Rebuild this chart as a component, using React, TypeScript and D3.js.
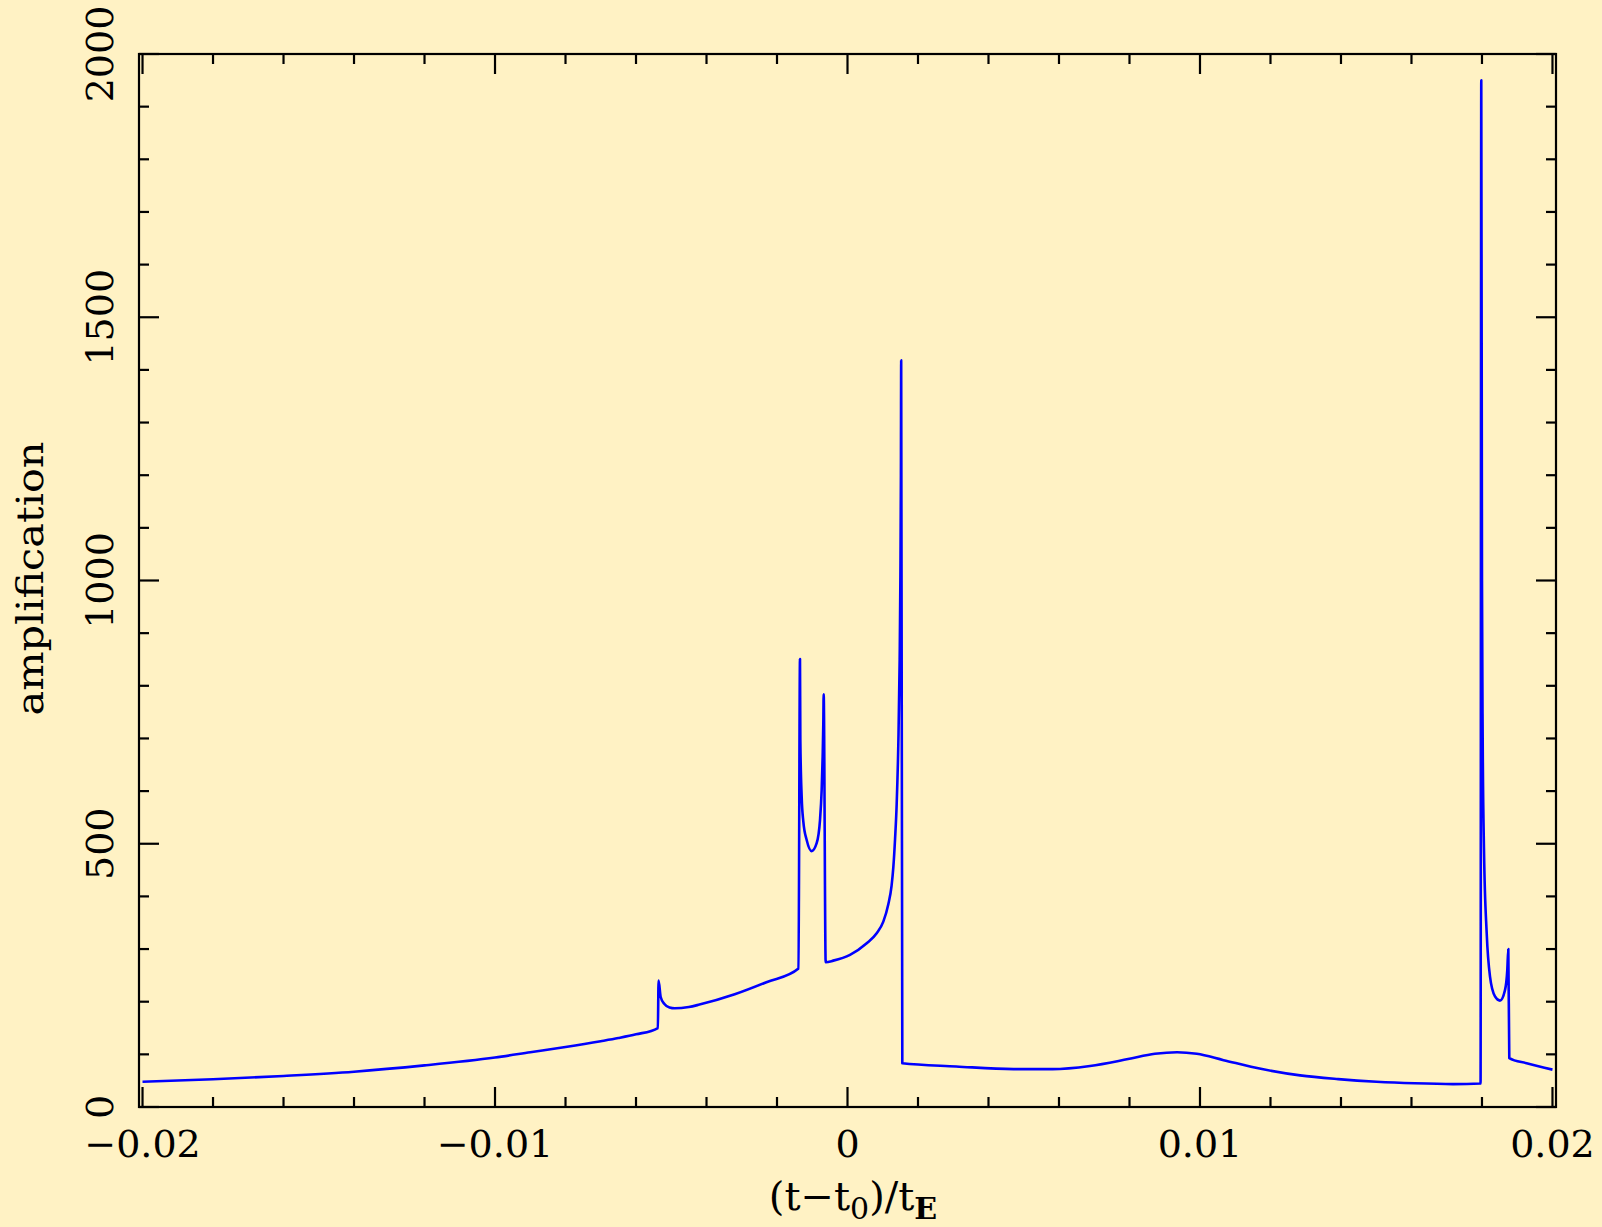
import React from "react";
import * as d3 from "d3";

// ---- data ----
const tValues: number[] = [
  -0.02, -0.018, -0.016, -0.014, -0.012, -0.01, -0.009, -0.008, -0.007, -0.0065, -0.006,
  -0.00538, -0.00536, -0.0053, -0.0052, -0.00505, -0.0049, -0.0045, -0.0042, -0.0032, -0.0023,
  -0.00139, -0.001348, -0.001338, -0.0013, -0.001253, -0.001158, -0.001017, -0.000875, -0.00078,
  -0.000733, -0.000705, -0.000686, -0.000676, -0.000619, -0.000403, 0.000071, 0.000545, 0.000828,
  0.001016, 0.001158, 0.00125, 0.0013, 0.00135, 0.001395, 0.001442, 0.00148, 0.0015, 0.001515,
  0.001523, 0.001555,
  0.003084, 0.00471, 0.005816, 0.00688, 0.00796, 0.00872, 0.00935, 0.00991, 0.01067, 0.01176,
  0.01284, 0.01392, 0.01501, 0.01609, 0.01718, 0.01796, 0.01798, 0.018, 0.01802, 0.018057,
  0.018134, 0.018227, 0.018369, 0.018511, 0.018653, 0.018718, 0.018747, 0.018775, 0.019268, 0.02,
];
const ampValues: number[] = [
  48, 52.6, 59, 67, 79, 94, 104, 114, 125, 131, 138,
  150, 240, 209, 196, 189, 187.5, 190, 194.5, 214, 237,
  263, 851, 697, 589, 542, 507, 486, 501, 545,
  602, 665, 729, 784, 275, 278, 289, 311, 330,
  352, 385, 420, 455, 510, 575, 690, 850, 1000, 1200,
  1418, 83,
  77, 72, 72, 78, 91, 101, 104, 101, 89, 72,
  60, 53, 48, 45, 43.5, 44.5, 1950, 1000, 700, 488,
  330, 248, 210, 202, 222, 260, 300, 93, 83, 71,
];

const xMajorTicks = [-0.02, -0.01, 0, 0.01, 0.02];
const xTickLabels = ["\u22120.02", "\u22120.01", "0", "0.01", "0.02"];
const yMajorTicks = [0, 500, 1000, 1500, 2000];
const yTickLabels = ["0", "500", "1000", "1500", "2000"];

const W = 1602;
const H = 1227;
const L = 139;
const R = 1556;
const T = 54;
const B = 1107;
const BG = "#fff2c4";
const FONT = "'DejaVu Serif', serif";

export default function App() {
  const x = d3.scaleLinear().domain([-0.0201, 0.0201]).range([L, R]);
  const y = d3.scaleLinear().domain([0, 2000]).range([B, T]);

  const data = tValues.map((t, i) => [t, ampValues[i]] as [number, number]);
  const line = d3
    .line<[number, number]>()
    .x((d) => x(d[0]))
    .y((d) => y(d[1]))
    .curve(d3.curveMonotoneX);

  const xMinor = d3.range(-0.02, 0.02001, 0.002).filter(
    (v) => !xMajorTicks.some((m) => Math.abs(m - v) < 1e-9)
  );
  const yMinor = d3.range(0, 2001, 100).filter((v) => v % 500 !== 0);

  const major = 20;
  const minor = 10;
  const sw = 2.2;

  return (
    <svg
      width={W}
      height={H}
      style={{ position: "absolute", left: 0, top: 0, display: "block" }}
      xmlns="http://www.w3.org/2000/svg"
    >
      <rect x={0} y={0} width={W} height={H} fill={BG} />
      {/* curve */}
      <path d={line(data) || ""} fill="none" stroke="#0000ff" strokeWidth={2.6} strokeLinejoin="round" />
      {/* frame */}
      <rect x={L} y={T} width={R - L} height={B - T} fill="none" stroke="#000" strokeWidth={sw} />
      {/* x ticks */}
      {xMajorTicks.map((v) => (
        <g key={"xM" + v}>
          <line x1={x(v)} x2={x(v)} y1={B} y2={B - major} stroke="#000" strokeWidth={sw} />
          <line x1={x(v)} x2={x(v)} y1={T} y2={T + major} stroke="#000" strokeWidth={sw} />
        </g>
      ))}
      {xMinor.map((v) => (
        <g key={"xm" + v}>
          <line x1={x(v)} x2={x(v)} y1={B} y2={B - minor} stroke="#000" strokeWidth={sw} />
          <line x1={x(v)} x2={x(v)} y1={T} y2={T + minor} stroke="#000" strokeWidth={sw} />
        </g>
      ))}
      {/* y ticks */}
      {yMajorTicks.map((v) => (
        <g key={"yM" + v}>
          <line x1={L} x2={L + major} y1={y(v)} y2={y(v)} stroke="#000" strokeWidth={sw} />
          <line x1={R} x2={R - major} y1={y(v)} y2={y(v)} stroke="#000" strokeWidth={sw} />
        </g>
      ))}
      {yMinor.map((v) => (
        <g key={"ym" + v}>
          <line x1={L} x2={L + minor} y1={y(v)} y2={y(v)} stroke="#000" strokeWidth={sw} />
          <line x1={R} x2={R - minor} y1={y(v)} y2={y(v)} stroke="#000" strokeWidth={sw} />
        </g>
      ))}
      {/* x tick labels */}
      {xMajorTicks.map((v, i) => (
        <text
          key={"xl" + v}
          x={x(v)}
          y={1157}
          textAnchor="middle"
          fontFamily={FONT}
          fontSize={38}
          fill="#000"
        >
          {xTickLabels[i]}
        </text>
      ))}
      {/* y tick labels (rotated) */}
      {yMajorTicks.map((v, i) => (
        <text
          key={"yl" + v}
          transform={`translate(113,${y(v)}) rotate(-90)`}
          textAnchor="middle"
          fontFamily={FONT}
          fontSize={38}
          fill="#000"
        >
          {yTickLabels[i]}
        </text>
      ))}
      {/* axis titles */}
      <text x={853} y={1210} textAnchor="middle" fontFamily={FONT} fontSize={40} fill="#000">
        (t{"\u2212"}t
        <tspan fontSize={30} dy={9}>0</tspan>
        <tspan dy={-9}>)/t</tspan>
        <tspan fontSize={30} dy={9} fontWeight="bold">E</tspan>
      </text>
      <text
        transform={`translate(43,${(T + B) / 2 - 2}) rotate(-90)`}
        textAnchor="middle"
        fontFamily={FONT}
        fontSize={37}
        textLength={274}
        lengthAdjust="spacingAndGlyphs"
        fill="#000"
      >
        amplification
      </text>
    </svg>
  );
}
